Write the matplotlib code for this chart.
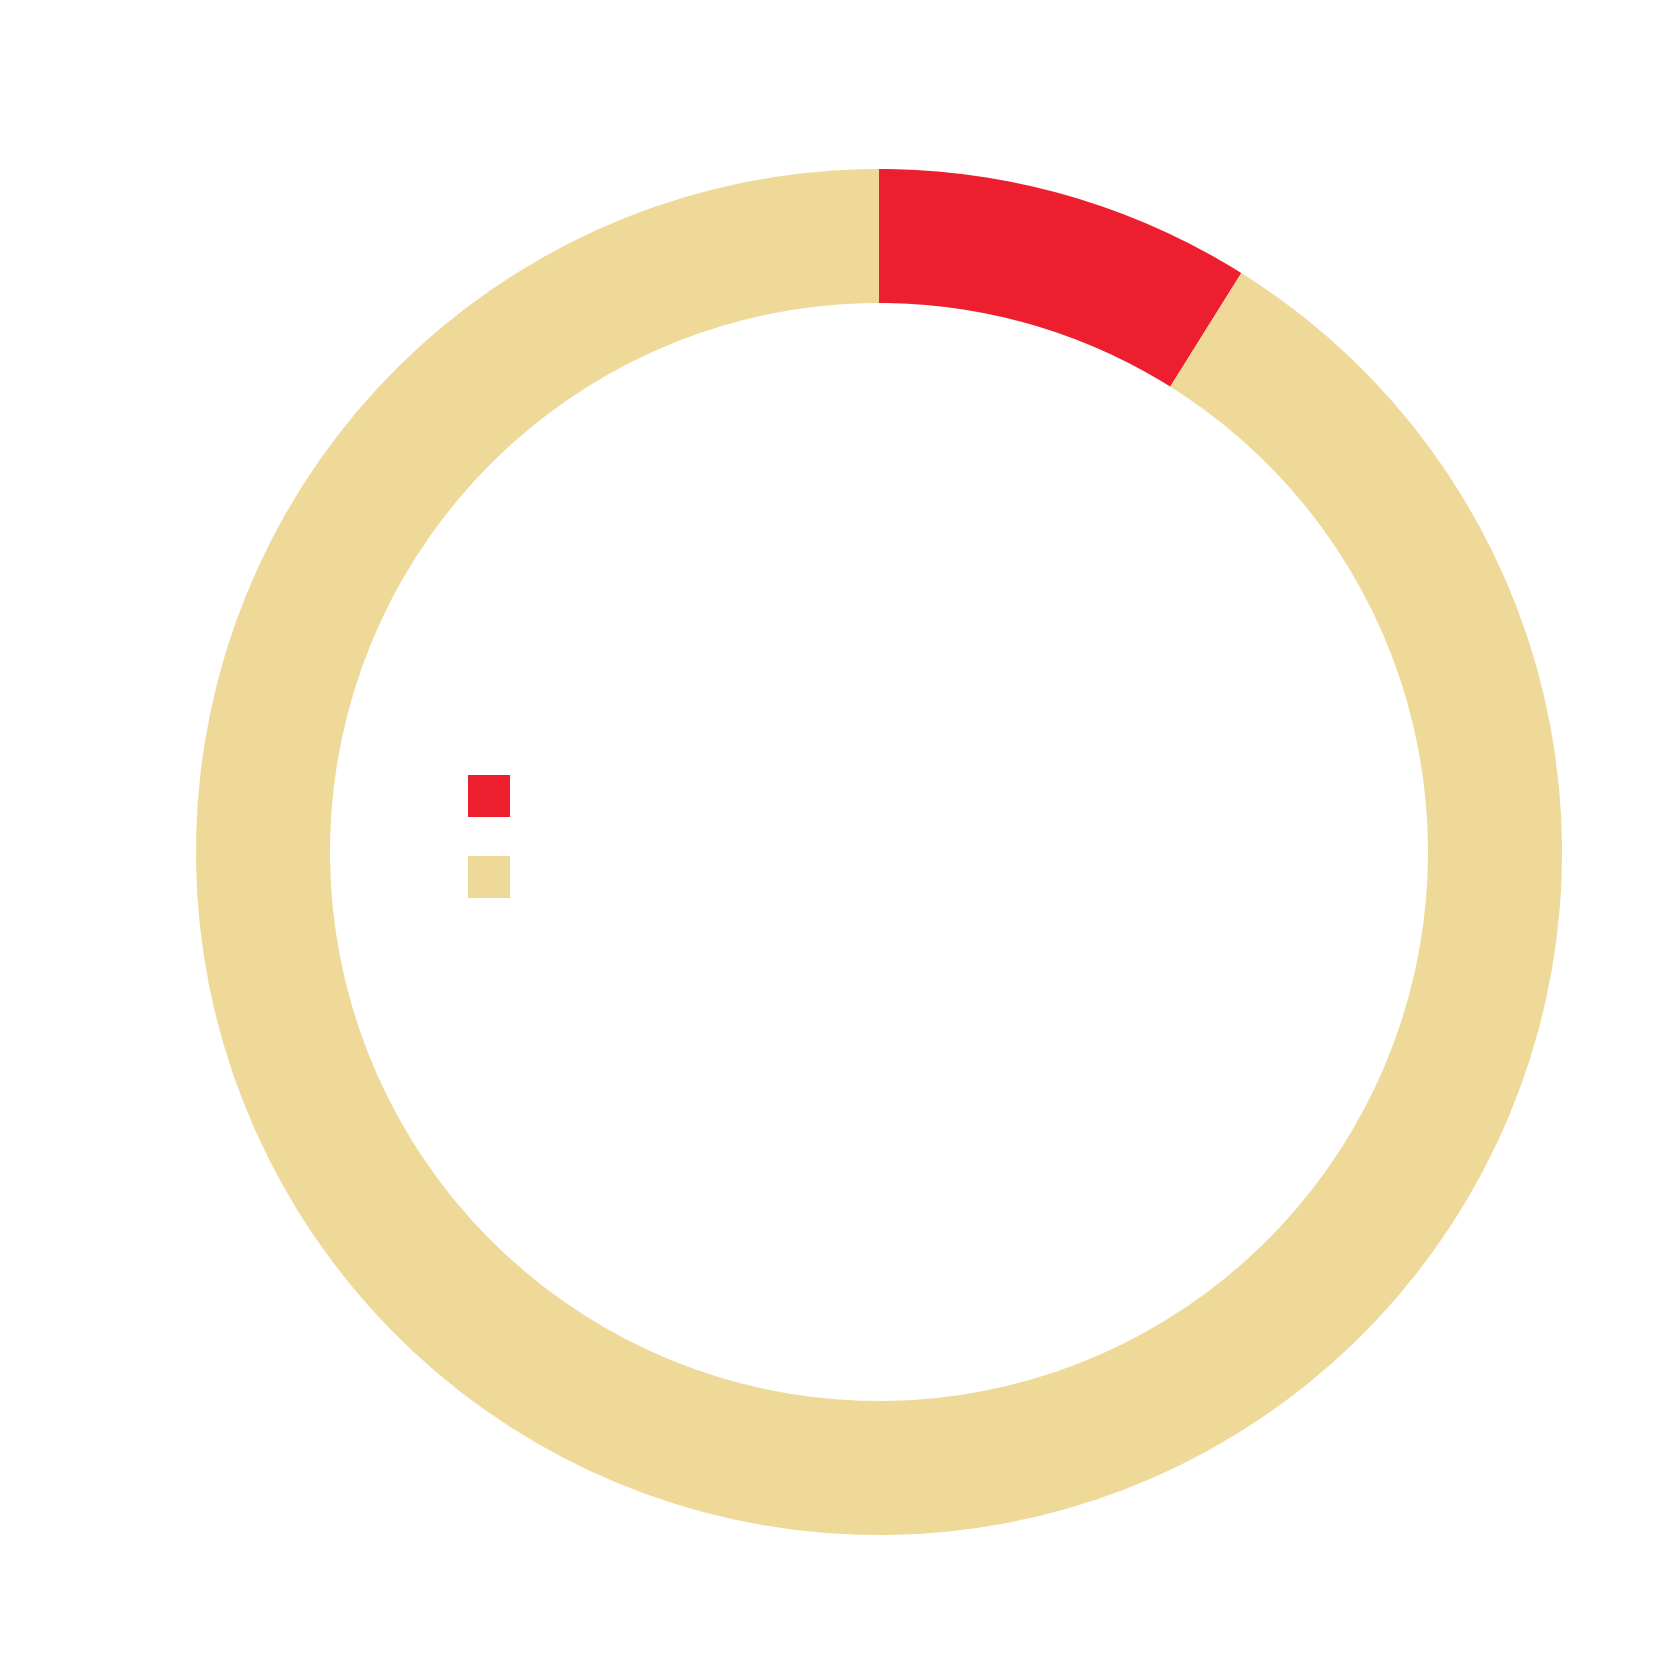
import matplotlib.pyplot as plt
from matplotlib.patches import Patch

# slice shares (red starts at 12 o'clock, clockwise)
categories = ['Share A', 'Share B']
values = [8.9, 91.1]
colors = ['#ED1F2F', '#EED999']

fig = plt.figure(figsize=(16.67, 16.67), dpi=100)
ax = fig.add_axes([0, 0, 1, 1])
ax.set_xlim(0, 1667)
ax.set_ylim(0, 1667)
ax.set_aspect('equal')
ax.axis('off')

# donut ring, pixel units
ax.pie(values, colors=colors, startangle=90, counterclock=False,
       center=(879, 815), radius=683,
       wedgeprops=dict(width=134, linewidth=0))
ax.set_xlim(0, 1667)
ax.set_ylim(0, 1667)

# legend with swatches only, labels drawn in white
handles = [Patch(facecolor=c, edgecolor='none') for c in colors]
leg = fig.legend(handles, categories, loc='upper left',
                 bbox_to_anchor=(468 / 1667, 1 - 775 / 1667),
                 frameon=False, fontsize=21.6, handlelength=1.4,
                 handleheight=1.777, labelspacing=1.29,
                 borderpad=0, borderaxespad=0, handletextpad=0.5)
for t in leg.get_texts():
    t.set_color('white')

fig.savefig('out.png', dpi=100, facecolor='white')
